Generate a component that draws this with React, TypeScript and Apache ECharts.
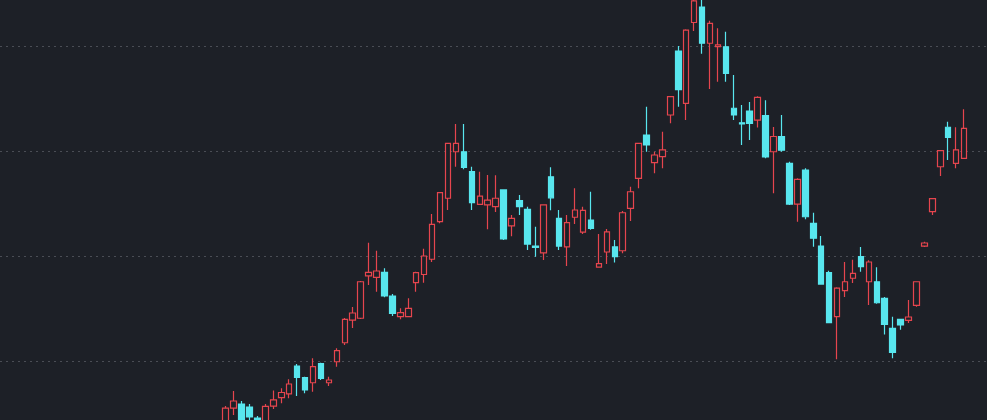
import React, { useEffect, useRef } from "react";
import * as echarts from "echarts";

// Each candle: [open, close, lowest, highest]
const opens = [
  4.0, 5.52, 5.9, 5.62, 4.57, 4.19, 5.71, 6.52, 6.86, 9.52,
  8.43, 7.93, 9.76, 7.93, 9.93, 11.74, 13.9, 14.07, 18.1, 17.97,
  18.45, 16.19, 14.22, 14.22, 17.46, 18.24, 19.69, 23.27, 25.5, 29.93,
  29.93, 28.03, 24.92, 24.86, 24.7, 26.29, 22.86, 25.27, 24.45, 20.95,
  20.29, 27.55, 23.59, 20.86, 23.69, 22.27, 23.43, 18.95, 20.38, 20.86,
  20.5, 24.54, 27.4, 31.52, 28.89, 29.46, 33.43, 39.52, 34.54, 42.24,
  43.71, 40.26, 39.95, 39.93, 34.07, 32.69, 33.81, 32.95, 33.38, 29.93,
  31.36, 28.83, 24.95, 28.19, 23.11, 20.95, 18.41, 14.22, 16.71, 17.88,
  19.95, 17.55, 17.55, 15.97, 13.11, 13.97, 13.86, 15.29, 20.95, 24.22,
  28.5, 32.26, 28.83, 29.3,
];
const closes = [
  5.52, 6.19, 4.38, 4.67, 4.0, 5.67, 6.29, 7.0, 7.81, 8.43,
  7.24, 9.46, 8.35, 8.19, 10.98, 13.97, 14.57, 17.55, 18.45, 18.57,
  16.19, 14.54, 14.6, 15.02, 18.41, 20.0, 23.02, 26.03, 30.73, 30.73,
  28.45, 25.08, 25.71, 25.33, 25.5, 21.62, 23.59, 24.7, 21.14, 20.81,
  24.86, 25.54, 20.95, 23.17, 24.38, 24.35, 22.64, 19.28, 22.29, 19.95,
  24.12, 26.12, 30.73, 30.57, 29.62, 30.1, 35.17, 35.84, 41.52, 44.29,
  40.26, 42.16, 40.1, 37.4, 33.43, 32.57, 32.64, 35.1, 29.43, 31.38,
  30.07, 24.95, 27.3, 23.74, 21.69, 17.33, 13.65, 16.95, 17.55, 18.35,
  18.98, 19.43, 15.55, 13.48, 10.81, 13.43, 14.19, 17.55, 21.24, 25.46,
  30.03, 31.3, 30.1, 32.16,
];
const lows = [
  3.62, 4.86, 4.0, 4.29, 3.62, 4.0, 5.43, 5.97, 6.45, 6.67,
  6.92, 7.08, 8.19, 7.62, 9.46, 11.52, 13.14, 14.0, 17.24, 16.6,
  16.07, 14.29, 13.97, 14.16, 16.6, 17.46, 19.43, 23.11, 24.38, 28.5,
  28.26, 24.38, 24.86, 22.54, 24.19, 21.52, 21.88, 23.9, 20.57, 19.93,
  19.62, 24.35, 20.57, 19.05, 23.05, 22.1, 22.5, 18.9, 19.24, 19.38,
  20.26, 23.33, 26.45, 29.93, 27.88, 28.35, 32.64, 34.22, 32.95, 41.43,
  39.27, 35.9, 36.6, 36.6, 32.95, 30.57, 31.05, 32.24, 29.3, 25.97,
  29.93, 24.86, 23.27, 23.5, 20.89, 17.29, 13.59, 10.16, 16.1, 17.43,
  18.5, 15.33, 15.46, 12.52, 10.26, 12.98, 13.62, 15.17, 20.86, 23.9,
  27.62, 29.14, 28.35, 29.24,
];
const highs = [
  5.71, 7.14, 6.19, 5.9, 4.76, 5.9, 7.19, 7.4, 8.26, 9.71,
  8.5, 10.26, 9.84, 8.5, 11.21, 14.1, 15.14, 17.62, 21.27, 20.5,
  18.83, 16.38, 15.02, 15.97, 18.5, 20.69, 24.0, 26.1, 30.76, 32.57,
  32.57, 28.5, 28.03, 27.71, 27.69, 26.33, 23.9, 25.81, 24.7, 22.79,
  24.92, 28.45, 24.38, 23.9, 26.45, 24.7, 26.12, 22.1, 22.57, 21.52,
  24.29, 26.6, 30.76, 34.22, 29.93, 31.84, 35.24, 40.0, 41.59, 44.76,
  44.48, 42.41, 41.69, 41.36, 37.24, 34.38, 34.67, 35.21, 34.83, 32.29,
  33.43, 28.98, 27.4, 28.35, 24.12, 21.9, 18.6, 17.02, 19.43, 19.65,
  20.86, 19.59, 18.92, 16.1, 14.22, 14.0, 15.81, 17.57, 21.36, 25.5,
  30.07, 32.79, 32.26, 33.97,
];
const categories = opens.map((_, i) => String(i + 1));
const yTicks = [0, 10, 20, 30, 40, 50];

const BG = "#1d2027";
const RED = "#e6454e";
const CYAN = "#58e6ee";

export default function App() {
  const ref = useRef<HTMLDivElement>(null);
  useEffect(() => {
    document.body.style.margin = "0";
    document.body.style.background = BG;
    if (!ref.current) return;
    const chart = echarts.init(ref.current, undefined, { renderer: "svg" });
    const data = opens.map((o, i) => [o, closes[i], lows[i], highs[i]]);
    chart.setOption({
      animation: false,
      backgroundColor: BG,
      grid: [
        { left: 0, right: 0, top: 0, bottom: 0 },
        { left: 221.7, right: 18.9, top: 0, bottom: 0 },
      ],
      xAxis: [
        { type: "category", gridIndex: 0, data: categories, show: false },
        {
          type: "category",
          gridIndex: 1,
          data: categories,
          show: false,
          boundaryGap: true,
        },
      ],
      yAxis: [
        {
          type: "value",
          gridIndex: 0,
          min: yTicks[0],
          max: yTicks[yTicks.length - 1],
          interval: 10,
          axisLine: { show: false },
          axisTick: { show: false },
          axisLabel: { show: false },
          splitLine: {
            show: true,
            lineStyle: { color: "#4a4d55", type: [2, 4], width: 1 },
          },
        },
        {
          type: "value",
          gridIndex: 1,
          min: yTicks[0],
          max: yTicks[yTicks.length - 1],
          interval: 10,
          show: false,
          splitLine: { show: false },
        },
      ],
      series: [
        {
          type: "candlestick",
          xAxisIndex: 1,
          yAxisIndex: 1,
          data,
          barWidth: 6,
          clip: false,
          itemStyle: {
            color: BG,
            color0: CYAN,
            borderColor: RED,
            borderColor0: CYAN,
            borderWidth: 1.2,
          },
        },
      ],
    });
    return () => chart.dispose();
  }, []);
  // The chart's plotting area runs from y = -59 to y = 466 so that its
  // gridlines fall where the reference shows them; the window shows 0..420.
  return (
    <div
      ref={ref}
      style={{ position: "fixed", left: 0, top: -59, width: 987, height: 525 }}
    />
  );
}
